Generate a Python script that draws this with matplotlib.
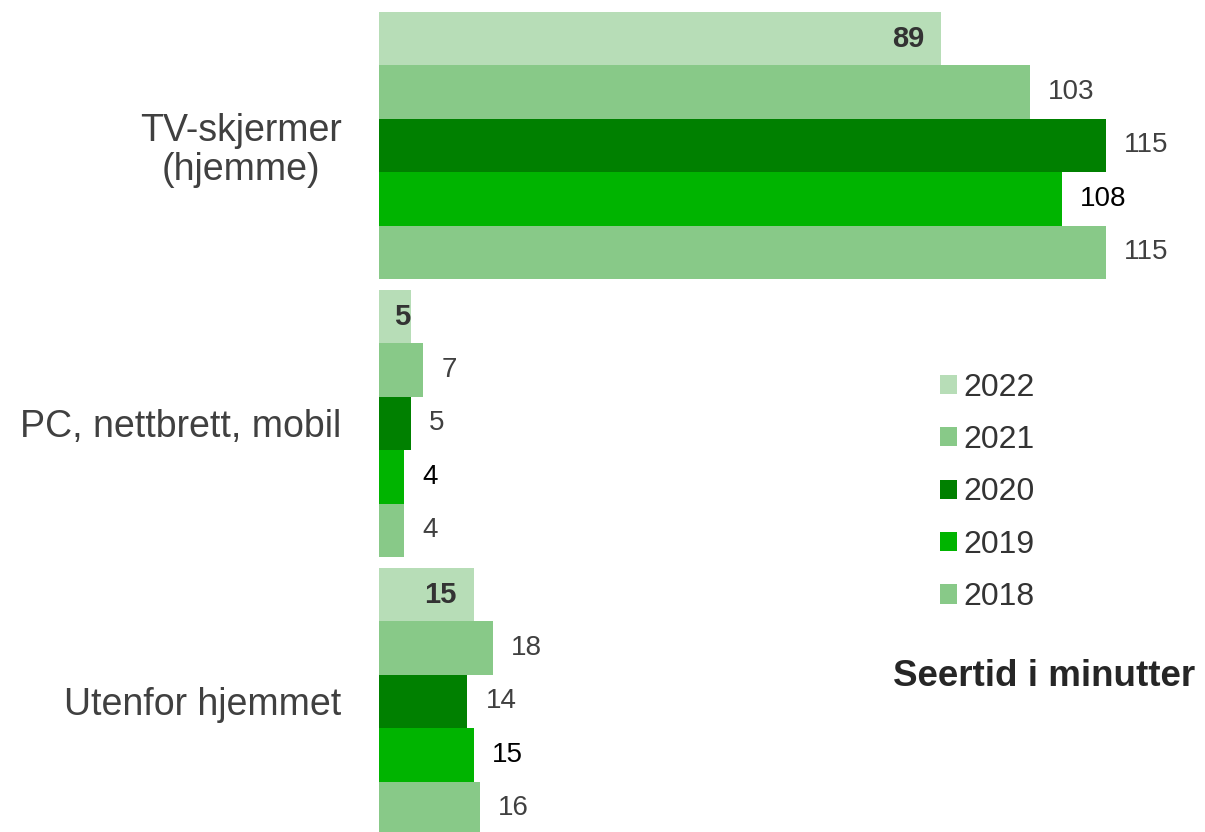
"""Seertid i minutter per skjermtype, 2018-2022 (grouped horizontal bars)."""
import matplotlib.pyplot as plt
import numpy as np
from matplotlib.patches import Patch

plt.rcParams["font.family"] = ["Liberation Sans", "DejaVu Sans"]

categories = ["TV-skjermer\n(hjemme)", "PC, nettbrett, mobil", "Utenfor hjemmet"]
years = ["2022", "2021", "2020", "2019", "2018"]
minutes = {
    "2022": [89, 5, 15],
    "2021": [103, 7, 18],
    "2020": [115, 5, 14],
    "2019": [108, 4, 15],
    "2018": [115, 4, 16],
}
colors = {
    "2022": "#B7DDB7",
    "2021": "#88C988",
    "2020": "#008000",
    "2019": "#00B400",
    "2018": "#88C988",
}
label_colors = {
    "2022": "#333333",
    "2021": "#404040",
    "2020": "#404040",
    "2019": "#000000",
    "2018": "#404040",
}

W, H, DPI = 1205, 832, 100
fig = plt.figure(figsize=(W / DPI, H / DPI), dpi=DPI)
left_px = 379
ax = fig.add_axes([left_px / W, 0, (W - left_px) / W, 1])

px_per_min = 6.32
ax.set_xlim(0, (W - left_px) / px_per_min)
group_px = 278.0
top_px = 12.0
bar_h = 0.192
y0 = -2.5 * bar_h
ax.set_ylim(y0 + (H - top_px) / group_px, y0 - top_px / group_px)

base = np.arange(len(categories))
for k, yr in enumerate(years):
    ys = base + y0 + (k + 0.5) * bar_h
    vals = minutes[yr]
    ax.barh(ys, vals, height=bar_h, color=colors[yr], edgecolor="none")
    for y, v in zip(ys, vals):
        if yr == "2022":
            # bold label sits inside the end of the bar
            end_px = v * px_per_min
            right_px = max(end_px - 17, 31)
            ax.annotate(str(v), (0, y), xytext=(right_px, 0),
                        textcoords="offset pixels", ha="right", va="center",
                        fontsize=21, fontweight="bold", color=label_colors[yr])
        else:
            ax.annotate(str(v), (v, y), xytext=(18, 0),
                        textcoords="offset pixels", ha="left", va="center",
                        fontsize=20, color=label_colors[yr])

ax.set_yticks(base)
ax.set_yticklabels(categories, fontsize=27, color="#404040",
                   multialignment="center", linespacing=1.08)
ax.tick_params(axis="y", length=0, pad=27)
ax.set_xticks([])
for s in ax.spines.values():
    s.set_visible(False)

handles = [Patch(facecolor=colors[yr], edgecolor="none", label=yr) for yr in years]
fig.legend(handles=handles, loc="upper left", bbox_to_anchor=(911 / W, 1 - 344 / H),
           frameon=False, fontsize=23, handlelength=0.55, handleheight=0.55,
           handletextpad=0.2, labelspacing=0.7, labelcolor="#333333")

fig.text(893 / W, 1 - 677 / H, "Seertid i minutter", ha="left", va="center",
         fontsize=26.5, fontweight="bold", color="#262626")

fig.savefig("out.png", dpi=DPI)
